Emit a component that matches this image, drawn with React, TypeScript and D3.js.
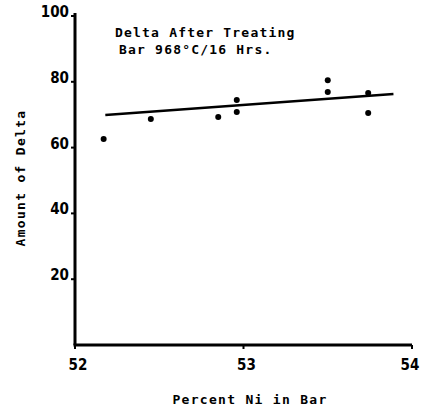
import React, { useEffect, useRef } from "react";
import * as d3 from "d3";

// Percent Ni in bar vs. amount of delta
const niPercent = [52.17, 52.45, 52.85, 52.96, 52.96, 53.5, 53.5, 53.74, 53.74];
const deltaAmount = [62.6, 68.7, 69.3, 74.5, 70.8, 80.5, 76.9, 76.6, 70.5];
const fitX = [52.18, 53.89];
const fitY = [69.9, 76.3];
const xTicks = [52, 53, 54];
const yTicks = [20, 40, 60, 80, 100];
const titleLines = ["Delta After Treating", "Bar 968°C/16 Hrs."];

function App() {
  const ref = useRef<SVGSVGElement | null>(null);

  useEffect(() => {
    const svg = d3.select(ref.current);
    svg.selectAll("*").remove();

    const x = d3.scaleLinear().domain([52, 54]).range([75, 412]);
    const y = d3.scaleLinear().domain([0, 100]).range([345, 16]);
    const font = "'DejaVu Sans Condensed', 'DejaVu Sans', sans-serif";
    const mono = "'DejaVu Sans Mono', monospace";

    // axes
    svg
      .append("line")
      .attr("x1", x(52))
      .attr("x2", x(52))
      .attr("y1", y(100) - 3)
      .attr("y2", y(0))
      .attr("stroke", "#000")
      .attr("stroke-width", 3);
    svg
      .append("line")
      .attr("x1", x(52) - 1.5)
      .attr("x2", x(54))
      .attr("y1", y(0))
      .attr("y2", y(0))
      .attr("stroke", "#000")
      .attr("stroke-width", 3);

    yTicks.forEach((t) => {
      svg
        .append("line")
        .attr("x1", x(52) - 4)
        .attr("x2", x(52))
        .attr("y1", y(t))
        .attr("y2", y(t))
        .attr("stroke", "#000")
        .attr("stroke-width", 2);
      svg
        .append("text")
        .attr("x", x(52) - 6)
        .attr("y", y(t) + 1)
        .attr("text-anchor", "end")
        .attr("font-family", font)
        .attr("font-weight", "bold")
        .attr("font-size", 15)
        .text(t.toString());
    });

    xTicks.forEach((t, i) => {
      svg
        .append("line")
        .attr("x1", x(t))
        .attr("x2", x(t))
        .attr("y1", y(0))
        .attr("y2", y(0) + 4)
        .attr("stroke", "#000")
        .attr("stroke-width", 2);
      svg
        .append("text")
        .attr("x", x(t) + (i === xTicks.length - 1 ? -2 : 3))
        .attr("y", y(0) + 25)
        .attr("text-anchor", "middle")
        .attr("font-family", font)
        .attr("font-weight", "bold")
        .attr("font-size", 15)
        .text(t.toString());
    });

    // axis titles
    svg
      .append("text")
      .attr("x", 250)
      .attr("y", 404)
      .attr("text-anchor", "middle")
      .attr("font-family", mono)
      .attr("font-weight", "bold")
      .attr("font-size", 13)
      .attr("letter-spacing", 1.3)
      .text("Percent Ni in Bar");
    svg
      .append("text")
      .attr("transform", "translate(25,178) rotate(-90)")
      .attr("text-anchor", "middle")
      .attr("font-family", mono)
      .attr("font-weight", "bold")
      .attr("font-size", 13)
      .attr("letter-spacing", 1.3)
      .text("Amount of Delta");

    // chart title
    titleLines.forEach((s, i) => {
      svg
        .append("text")
        .attr("x", i === 0 ? 115 : 119)
        .attr("y", 37 + i * 17)
        .attr("font-family", mono)
        .attr("font-weight", "bold")
        .attr("font-size", 13)
        .attr("letter-spacing", 1.2)
        .text(s);
    });

    // fit line
    const line = d3
      .line<number>()
      .x((d) => x(d))
      .y((_, i) => y(fitY[i]));
    svg
      .append("path")
      .datum(fitX)
      .attr("d", line)
      .attr("stroke", "#000")
      .attr("stroke-width", 2.4)
      .attr("fill", "none");

    // points
    niPercent.forEach((n, i) => {
      svg
        .append("circle")
        .attr("cx", x(n))
        .attr("cy", y(deltaAmount[i]))
        .attr("r", 3)
        .attr("fill", "#000");
    });
  }, []);

  return <svg ref={ref} width={422} height={412} style={{ position: "absolute", left: 0, top: 0, background: "#fff" }} />;
}

export default App;
